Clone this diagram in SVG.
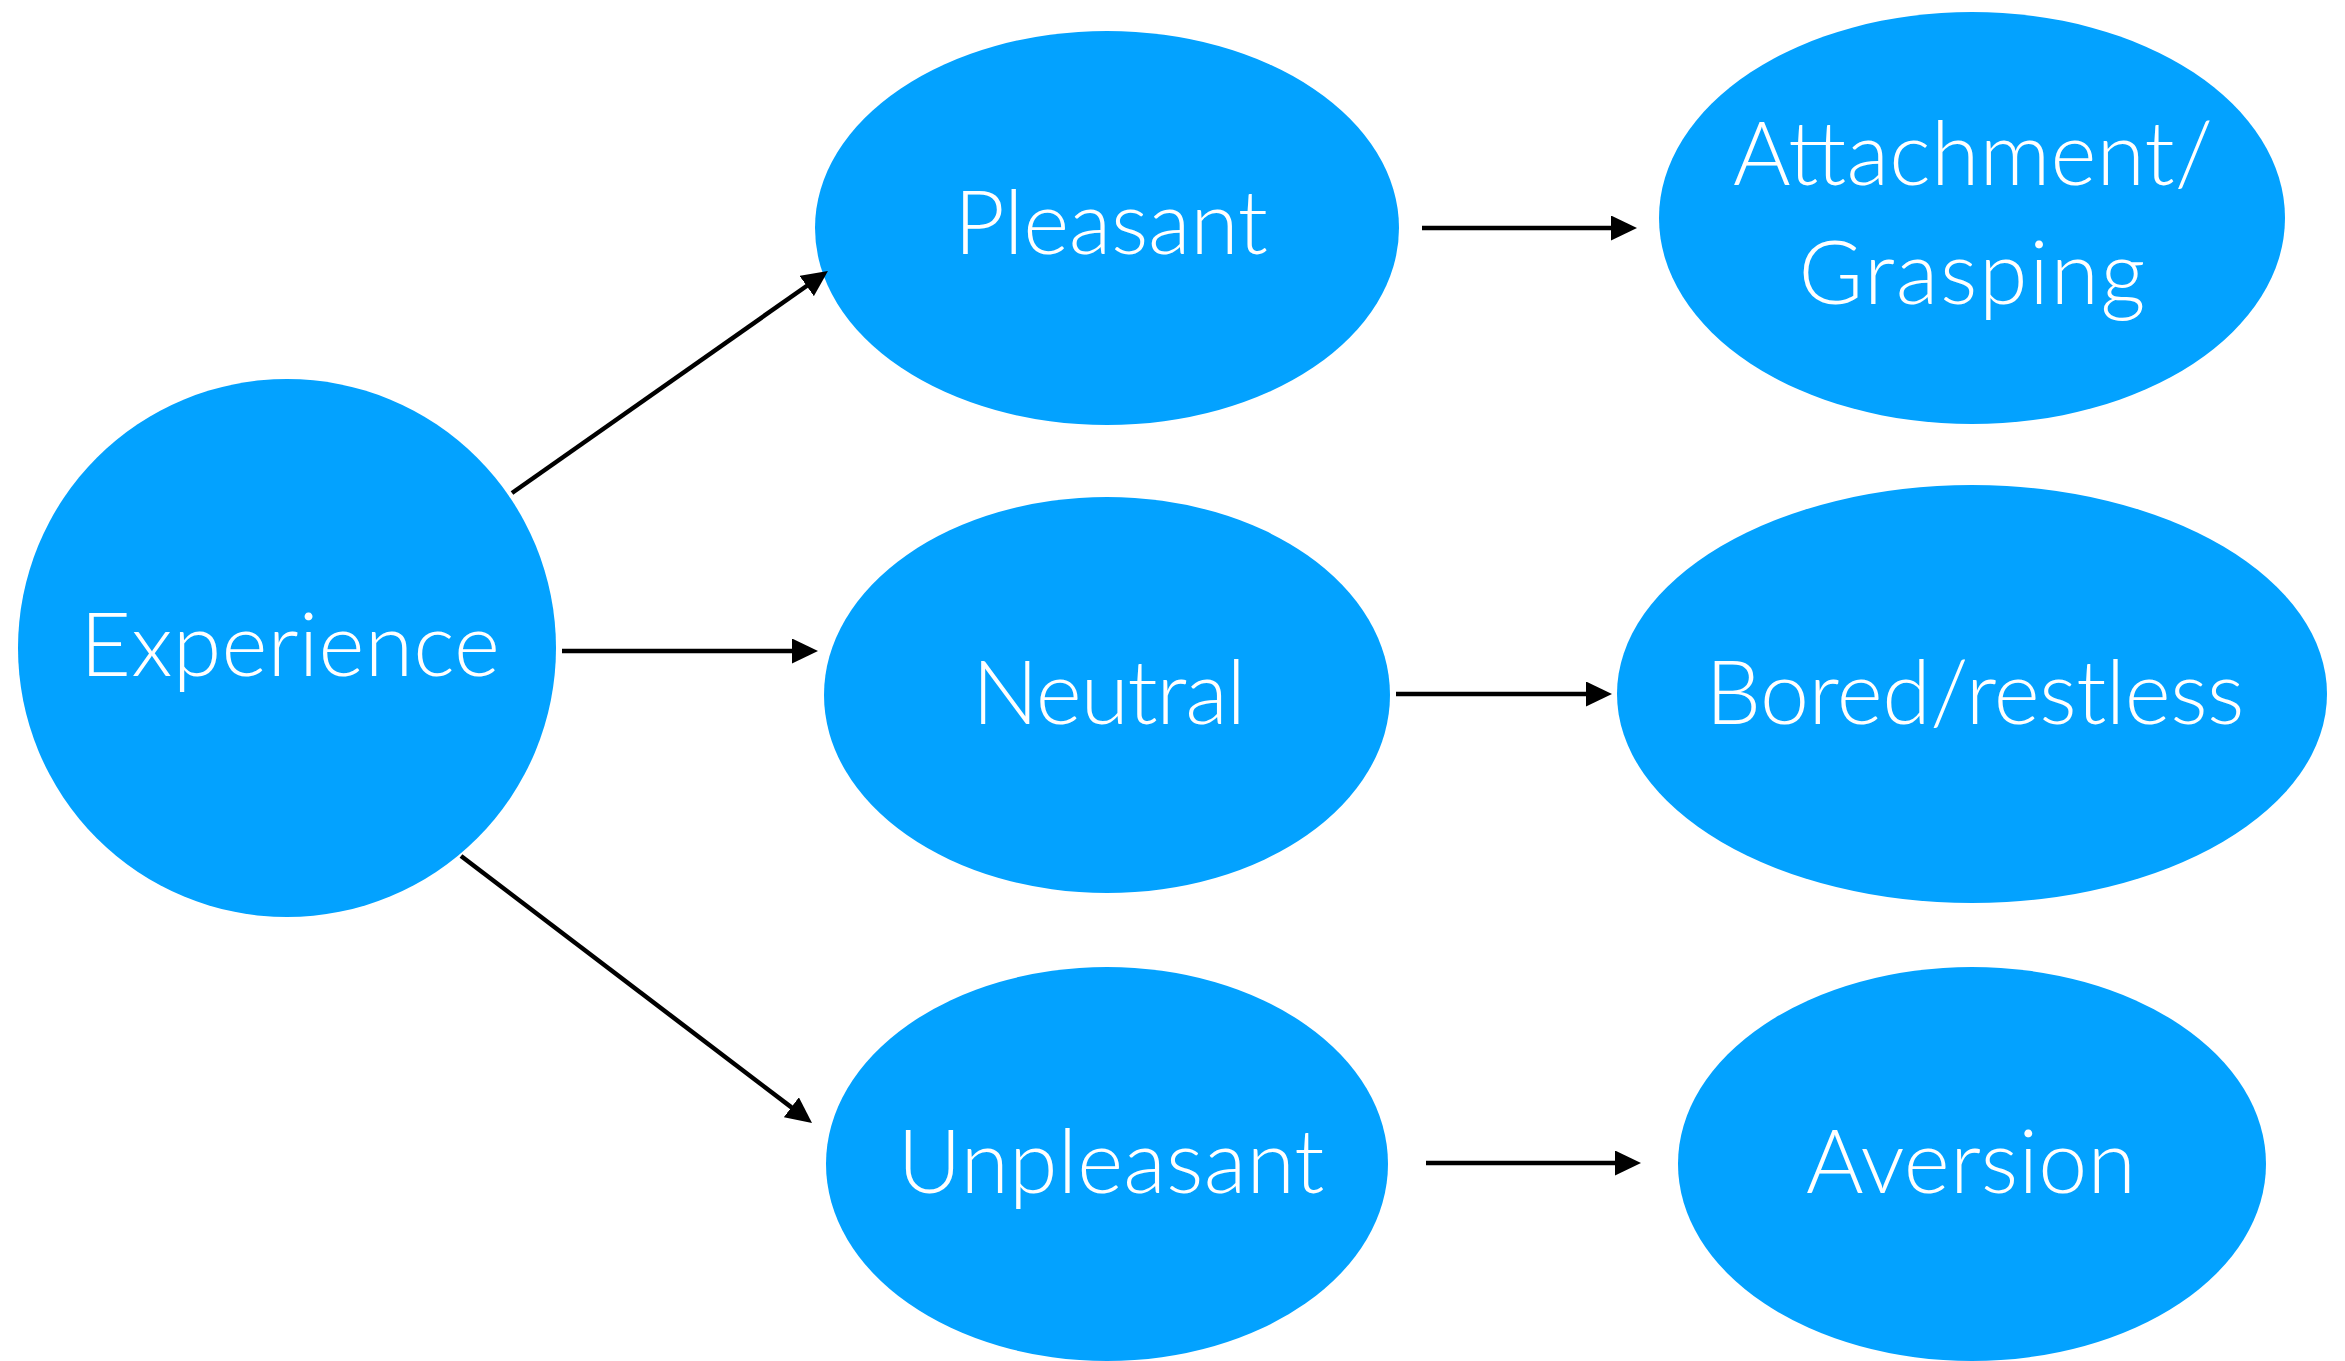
<svg xmlns="http://www.w3.org/2000/svg" width="2345" height="1361" viewBox="0 0 2345 1361">
<style>
.node{fill:#03A2FF;}
.lbl{font-family:Lato,"Noto Sans","Liberation Sans",sans-serif;font-weight:300;font-size:88px;fill:#ffffff;text-anchor:middle;}
.edge{stroke:#000;stroke-width:4.5;fill:none;}
</style>
<defs>
<marker id="ah" markerUnits="userSpaceOnUse" markerWidth="26" markerHeight="25" refX="6" refY="12.5" orient="auto" viewBox="0 0 26 25">
<path d="M0,0 L26,12.5 L0,25 z" fill="#000"/>
</marker>
</defs>
<rect width="2345" height="1361" fill="#ffffff"/>
<g id="experience"><ellipse class="node" cx="287" cy="648" rx="269" ry="269"/><text class="lbl" x="290" y="676" textLength="420" lengthAdjust="spacing">Experience</text></g>
<g id="pleasant"><ellipse class="node" cx="1107" cy="228" rx="292" ry="197"/><text class="lbl" x="1111" y="254" textLength="314" lengthAdjust="spacing">Pleasant</text></g>
<g id="neutral"><ellipse class="node" cx="1107" cy="695" rx="283" ry="198"/><text class="lbl" x="1109" y="724" textLength="274" lengthAdjust="spacing">Neutral</text></g>
<g id="unpleasant"><ellipse class="node" cx="1107" cy="1164" rx="281" ry="197"/><text class="lbl" x="1111" y="1193" textLength="427" lengthAdjust="spacing">Unpleasant</text></g>
<g id="attachment"><ellipse class="node" cx="1972" cy="218" rx="313" ry="206"/><text class="lbl" x="1973" y="185" textLength="480" lengthAdjust="spacing">Attachment/</text><text class="lbl" x="1972" y="304" textLength="347" lengthAdjust="spacing">Grasping</text></g>
<g id="bored"><ellipse class="node" cx="1972" cy="694" rx="355" ry="209"/><text class="lbl" x="1975" y="724" textLength="539" lengthAdjust="spacing">Bored/restless</text></g>
<g id="aversion"><ellipse class="node" cx="1972" cy="1164" rx="294" ry="197"/><text class="lbl" x="1971" y="1193" textLength="330" lengthAdjust="spacing">Aversion</text></g>
<g id="connectors">
<path class="edge" d="M512,493 L811.6,282.5" marker-end="url(#ah)"/>
<path class="edge" d="M562,651 L798,651" marker-end="url(#ah)"/>
<path class="edge" d="M461,856 L796.1,1110.9" marker-end="url(#ah)"/>
<path class="edge" d="M1422,228 L1617,228" marker-end="url(#ah)"/>
<path class="edge" d="M1396,694 L1592,694" marker-end="url(#ah)"/>
<path class="edge" d="M1426,1163 L1621,1163" marker-end="url(#ah)"/>
</g>
</svg>
